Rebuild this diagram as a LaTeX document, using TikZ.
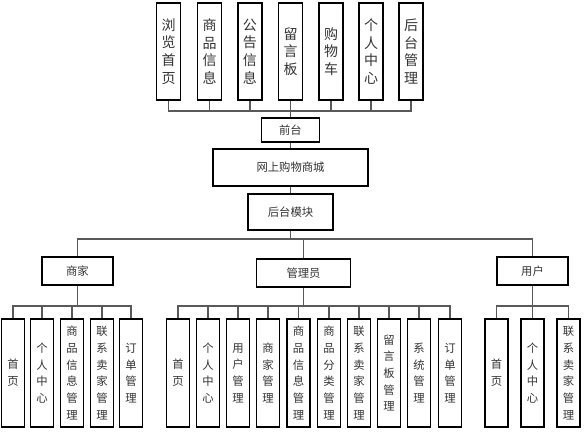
\documentclass[tikz,border=0pt]{standalone}
\usepackage{fontspec}
\setmainfont{Noto Sans CJK SC}
\begin{document}
\begin{tikzpicture}[x=0.75pt,y=-0.75pt,
  every node/.style={text=black!80},
  hbox/.style={draw=black, line width=0.8pt, fill=white, inner sep=0pt, font=\fontsize{8.5}{10}\selectfont},
  topbox/.style={draw=black, line width=0.8pt, fill=white, inner sep=0pt, minimum width=24*0.75pt, minimum height=97*0.75pt, align=center, font=\fontsize{10.5}{13.3}\selectfont},
  botbox/.style={draw=black, line width=0.8pt, fill=white, inner sep=0pt, minimum width=23*0.75pt, minimum height=108*0.75pt, align=center, font=\fontsize{8.5}{12.5}\selectfont},
  conn/.style={draw=black!65, line width=0.8pt}]
\useasboundingbox (0,0) rectangle (587,436);
% top row
\node[topbox] (t1) at (168.5,51.5) {浏\\览\\首\\页};
\node[topbox] (t2) at (209.5,51.5) {商\\品\\信\\息};
\node[topbox] (t3) at (250,51.5) {公\\告\\信\\息};
\node[topbox] (t4) at (290.5,51.5) {留\\言\\板};
\node[topbox] (t5) at (331,51.5) {购\\物\\车};
\node[topbox] (t6) at (371,51.5) {个\\人\\中\\心};
\node[topbox] (t7) at (411,51.5) {后\\台\\管\\理};
% middle
\node[hbox, minimum width=58*0.75pt, minimum height=24*0.75pt] (qt) at (290.5,130) {前台};
\node[hbox, minimum width=155*0.75pt, minimum height=37*0.75pt] (wc) at (290.5,167.5) {网上购物商城};
\node[hbox, minimum width=85*0.75pt, minimum height=36*0.75pt] (hm) at (290.5,212) {后台模块};
\node[hbox, minimum width=71*0.75pt, minimum height=28*0.75pt] (sj) at (77.5,271) {商家};
\node[hbox, minimum width=94*0.75pt, minimum height=28*0.75pt] (gl) at (303.5,273) {管理员};
\node[hbox, minimum width=71*0.75pt, minimum height=28*0.75pt] (yh) at (532.5,271) {用户};
% merchant children
\node[botbox] (s1) at (13,373) {首\\页};
\node[botbox] (s2) at (42,373) {个\\人\\中\\心};
\node[botbox] (s3) at (72,373) {商\\品\\信\\息\\管\\理};
\node[botbox] (s4) at (102,373) {联\\系\\卖\\家\\管\\理};
\node[botbox] (s5) at (131,373) {订\\单\\管\\理};
% admin children
\node[botbox] (g1) at (178,373) {首\\页};
\node[botbox] (g2) at (208,373) {个\\人\\中\\心};
\node[botbox] (g3) at (238,373) {用\\户\\管\\理};
\node[botbox] (g4) at (268,373) {商\\家\\管\\理};
\node[botbox] (g5) at (298.5,373) {商\\品\\信\\息\\管\\理};
\node[botbox] (g6) at (329,373) {商\\品\\分\\类\\管\\理};
\node[botbox] (g7) at (359,373) {联\\系\\卖\\家\\管\\理};
\node[botbox] (g8) at (389,373) {留\\言\\板\\管\\理};
\node[botbox] (g9) at (419,373) {系\\统\\管\\理};
\node[botbox] (g10) at (450,373) {订\\单\\管\\理};
% user children
\node[botbox] (u1) at (496.5,373) {首\\页};
\node[botbox] (u2) at (532.5,373) {个\\人\\中\\心};
\node[botbox] (u3) at (568.5,373) {联\\系\\卖\\家\\管\\理};
% bus coordinates
\coordinate (b1) at (290.5,111);
\coordinate (b2) at (290.5,239);
\coordinate (bs) at (77.5,306);
\coordinate (bg) at (303.5,306);
\coordinate (bu) at (532.5,306);
% connectors top
\draw[conn] (t1.south) |- (b1) -| (t7.south);
\foreach \n in {t2,t3,t5,t6} \draw[conn] (\n.south) -- (\n.south |- b1);
\draw[conn] (t4.south) -- (qt.north);
\draw[conn] (qt.south) -- (wc.north);
\draw[conn] (wc.south) -- (hm.north);
\draw[conn] (hm.south) -- (b2);
\draw[conn] (sj.north) |- (b2) -| (yh.north);
\draw[conn] (gl.north) -- (gl.north |- b2);
% merchant
\draw[conn] (sj.south) -- (bs);
\draw[conn] (s1.north) |- (bs) -| (s5.north);
\foreach \n in {s2,s3,s4} \draw[conn] (\n.north) -- (\n.north |- bs);
% admin
\draw[conn] (gl.south) -- (bg);
\draw[conn] (g1.north) |- (bg) -| (g10.north);
\foreach \n in {g2,g3,g4,g5,g6,g7,g8,g9} \draw[conn] (\n.north) -- (\n.north |- bg);
% user
\draw[conn] (yh.south) -- (bu);
\draw[conn] (u1.north) |- (bu) -| (u3.north);
\draw[conn] (u2.north) -- (u2.north |- bu);
\end{tikzpicture}
\end{document}
